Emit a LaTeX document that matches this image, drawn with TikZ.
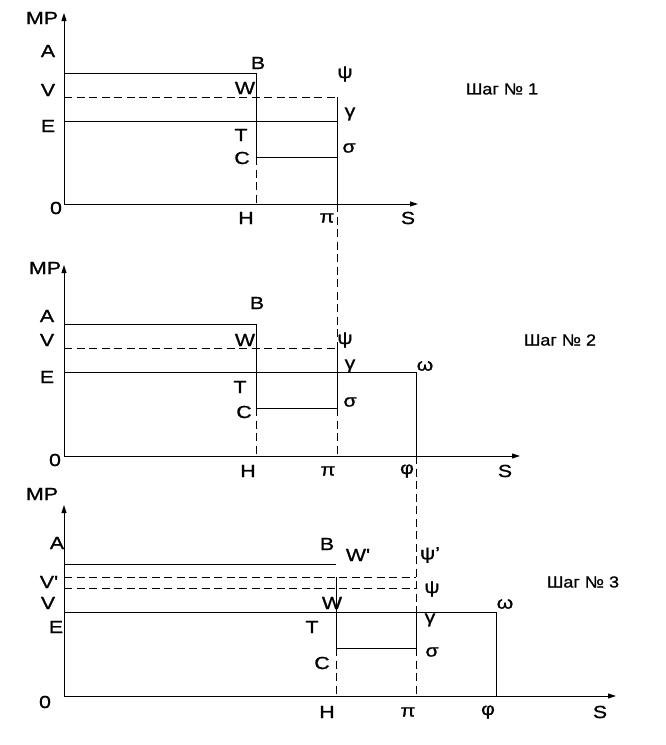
\documentclass[tikz,border=0pt]{standalone}
\usepackage{fontspec}
\usetikzlibrary{arrows.meta}
\newfontfamily\labfont{Liberation Sans}[FakeStretch=1.22,FakeBold=1]
\newfontfamily\stpfont{Liberation Sans}[FakeStretch=1.12,FakeBold=1]
\begin{document}
\begin{tikzpicture}[x=1pt,y=-1pt,
  lbl/.style={font=\labfont\fontsize{17.5}{19}\selectfont,inner sep=0pt},
  stp/.style={font=\stpfont\fontsize{16}{18}\selectfont,inner sep=0pt},
  ln/.style={line width=1pt},
  dsh/.style={line width=1pt,dash pattern=on 8pt off 4.5pt},
  ax/.style={line width=1pt,-{Triangle[length=8pt,width=5pt]}}]
\useasboundingbox (0,0) rectangle (665,745);
% ---------- Panel 1 ----------
\coordinate (o1) at (64,204);
\draw[ax] (o1) -- (64,13);
\draw[ax] (o1) -- (418,204);
\draw[ln] (64,73) -- (256,73) -- (256,157);
\draw[dsh] (256,157) -- (256,204);
\draw[dsh] (64,97) -- (337,97);
\draw[ln] (337,97) -- (337,204);
\draw[ln] (64,121) -- (337,121);
\draw[ln] (256,157) -- (337,157);
\draw[dsh] (337,204) -- (337,348);
\node[lbl] (mp1) at (42,18) {MP};
\node[lbl] (a1) at (48,51) {A};
\node[lbl] (b1) at (258,63) {B};
\node[lbl] (v1) at (48,90) {V};
\node[lbl] (w1) at (245,88) {W};
\node[lbl] (psi1) at (345,74) {ψ};
\node[lbl] (e1) at (48,126) {E};
\node[lbl] (g1) at (350,114) {γ};
\node[lbl] (t1) at (241,135) {T};
\node[lbl] (c1) at (242,158) {C};
\node[lbl] (s1) at (349,148) {σ};
\node[lbl] (z1) at (56,208) {0};
\node[lbl] (h1) at (246,218) {H};
\node[lbl] (pi1) at (327,218) {π};
\node[lbl] (S1) at (408,218) {S};
\node[stp] (st1) at (502,89) {Шаг № 1};
% ---------- Panel 2 ----------
\coordinate (o2) at (64,456);
\draw[ax] (o2) -- (64,265);
\draw[ax] (o2) -- (520,456);
\draw[ln] (64,324) -- (256,324) -- (256,408);
\draw[dsh] (256,408) -- (256,456);
\draw[dsh] (64,348) -- (337,348);
\draw[ln] (64,372) -- (416,372) -- (416,456);
\draw[ln] (256,408) -- (337,408);
\draw[ln] (337,348) -- (337,408);
\draw[dsh] (337,408) -- (337,456);
\draw[dsh] (416,456) -- (416,612);
\node[lbl] (mp2) at (45,268) {MP};
\node[lbl] (b2) at (257,303) {B};
\node[lbl] (a2) at (47,316) {A};
\node[lbl] (v2) at (47,340) {V};
\node[lbl] (w2) at (245,340) {W};
\node[lbl] (psi2) at (345,340) {ψ};
\node[lbl] (g2) at (350,366) {γ};
\node[lbl] (om2) at (425,366) {ω};
\node[lbl] (e2) at (47,377) {E};
\node[lbl] (t2) at (240,387) {T};
\node[lbl] (s2) at (350,402) {σ};
\node[lbl] (c2) at (244,412) {C};
\node[lbl] (z2) at (55,460) {0};
\node[lbl] (h2) at (248,471) {H};
\node[lbl] (pi2) at (328,471) {π};
\node[lbl] (ph2) at (407,471) {φ};
\node[lbl] (S2) at (505,471) {S};
\node[stp] (st2) at (560,340) {Шаг № 2};
% ---------- Panel 3 ----------
\coordinate (o3) at (64,696);
\draw[ax] (o3) -- (64,505);
\draw[ax] (o3) -- (616,696);
\draw[ln] (64,564) -- (336,564);
\draw[dsh] (64,577) -- (416,577);
\draw[dsh] (64,588) -- (416,588);
\draw[ln] (64,612) -- (496,612) -- (496,696);
\draw[ln] (336,577) -- (336,648);
\draw[dsh] (336,648) -- (336,696);
\draw[ln] (336,648) -- (416,648);
\draw[ln] (416,612) -- (416,648);
\draw[dsh] (416,648) -- (416,696);
\node[lbl] (mp3) at (42,494) {MP};
\node[lbl] (a3) at (57,543) {A};
\node[lbl] (b3) at (327,544) {B};
\node[lbl] (wp3) at (358,555) {W'};
\node[lbl] (psip3) at (430,555) {ψ’};
\node[lbl] (vp3) at (49,582) {V'};
\node[stp] (st3) at (583,582) {Шаг № 3};
\node[lbl] (psi3) at (432,589) {ψ};
\node[lbl] (v3) at (48,603) {V};
\node[lbl] (w3) at (332,603) {W};
\node[lbl] (om3) at (505,604) {ω};
\node[lbl] (g3) at (430,620) {γ};
\node[lbl] (e3) at (56,627) {E};
\node[lbl] (t3) at (312,627) {T};
\node[lbl] (s3) at (432,652) {σ};
\node[lbl] (c3) at (322,663) {C};
\node[lbl] (z3) at (45,702) {0};
\node[lbl] (h3) at (327,712) {H};
\node[lbl] (pi3) at (408,712) {π};
\node[lbl] (ph3) at (488,712) {φ};
\node[lbl] (S3) at (600,712) {S};
\end{tikzpicture}
\end{document}
